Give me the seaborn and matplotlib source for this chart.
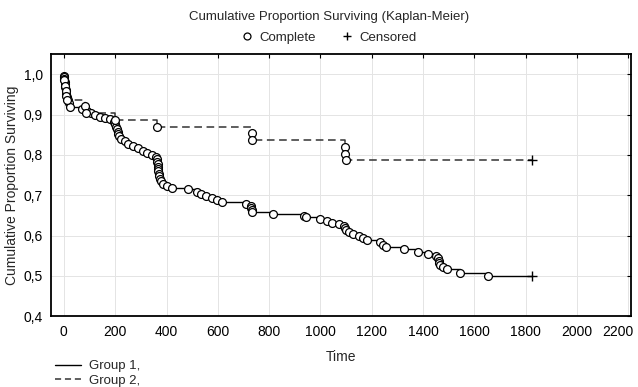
import numpy as np
import pandas as pd
import matplotlib
matplotlib.use("Agg")
import matplotlib.pyplot as plt
import matplotlib.transforms as mtransforms
from matplotlib.lines import Line2D
import seaborn as sns

# ---------------- data ----------------
g1_time = [0, 1, 2, 3, 4, 6, 8, 10, 13, 16, 20, 25, 70, 90, 105, 121, 140, 160, 180,
           195, 200, 203, 206, 209, 212, 216, 222, 238, 250, 270, 290, 308, 325, 343,
           360, 362, 364, 365, 366, 367, 368, 370, 372, 375, 380, 386, 400, 420, 483,
           520, 535, 555, 576, 595, 615, 710, 730, 731, 732, 734, 815, 936, 945, 998,
           1025, 1045, 1072, 1090, 1095, 1100, 1110, 1127, 1150, 1165, 1181, 1232,
           1243, 1255, 1325, 1380, 1420, 1452, 1458, 1460, 1462, 1465, 1478, 1492,
           1544, 1653]
g1_surv = [0.997, 0.993, 0.988, 0.982, 0.975, 0.968, 0.960, 0.952, 0.945, 0.937,
           0.928, 0.918, 0.913, 0.908, 0.903, 0.900, 0.895, 0.892, 0.888, 0.882,
           0.876, 0.870, 0.864, 0.858, 0.852, 0.846, 0.840, 0.834, 0.827, 0.821,
           0.816, 0.811, 0.806, 0.800, 0.795, 0.789, 0.783, 0.777, 0.771, 0.765,
           0.759, 0.753, 0.747, 0.741, 0.735, 0.728, 0.723, 0.719, 0.715, 0.709,
           0.704, 0.699, 0.694, 0.688, 0.683, 0.678, 0.673, 0.668, 0.663, 0.658,
           0.653, 0.649, 0.645, 0.641, 0.636, 0.632, 0.628, 0.623, 0.618, 0.613,
           0.608, 0.603, 0.598, 0.593, 0.588, 0.583, 0.577, 0.571, 0.566, 0.560,
           0.555, 0.549, 0.544, 0.538, 0.532, 0.527, 0.521, 0.516, 0.507, 0.500]
g1_censor_time = 1826

g2_time = [1, 4, 7, 10, 13, 82, 85, 200, 362, 733, 735, 1095, 1097, 1099]
g2_surv = [0.985, 0.970, 0.958, 0.947, 0.937, 0.921, 0.905, 0.886, 0.870,
           0.855, 0.837, 0.820, 0.803, 0.787]
g2_censor_time = 1826

x_ticks = [0, 200, 400, 600, 800, 1000, 1200, 1400, 1600, 1800, 2000, 2200]
y_ticks = [0.4, 0.5, 0.6, 0.7, 0.8, 0.9, 1.0]
y_tick_labels = ["0,4", "0,5", "0,6", "0,7", "0,8", "0,9", "1,0"]

# ---------------- style ----------------
sns.set_style("white")
plt.rcParams["font.family"] = ["Liberation Sans", "DejaVu Sans"]

fig = plt.figure(figsize=(6.38, 3.87), dpi=100)
ax = fig.add_axes([0.080, 0.183, 0.909, 0.677])


def step_frame(times, surv, censor):
    t = [0] + list(times) + [censor]
    s = [1.0] + list(surv) + [surv[-1]]
    return pd.DataFrame({"Time": t, "S": s})


d1 = step_frame(g1_time, g1_surv, g1_censor_time)
d2 = step_frame(g2_time, g2_surv, g2_censor_time)

sns.lineplot(data=d1, x="Time", y="S", ax=ax, color="black", lw=1.0,
             drawstyle="steps-post", estimator=None, sort=False, zorder=2)
sns.lineplot(data=d2, x="Time", y="S", ax=ax, color="#333333", lw=1.1,
             drawstyle="steps-post", estimator=None, sort=False,
             dashes=False, zorder=2)
ax.lines[-1].set_linestyle((0, (5, 3)))

sns.scatterplot(x=g1_time, y=g1_surv, ax=ax, marker="o", s=32,
                facecolor="white", edgecolor="black", linewidth=0.9, zorder=3)
sns.scatterplot(x=g2_time, y=g2_surv, ax=ax, marker="o", s=32,
                facecolor="white", edgecolor="black", linewidth=0.9, zorder=3)
sns.scatterplot(x=[g1_censor_time, g2_censor_time], y=[g1_surv[-1], g2_surv[-1]],
                ax=ax, marker="+", s=45, color="black", linewidth=1.0, zorder=3)

ax.set_xlim(-50, 2210)
ax.set_ylim(0.4, 1.05)
ax.set_xticks(x_ticks)
ax.set_yticks(y_ticks)
ax.set_yticklabels(y_tick_labels)
ax.grid(True, color="#e4e4e4", lw=0.7)
ax.set_axisbelow(True)
for sp in ax.spines.values():
    sp.set_color("black")
    sp.set_linewidth(1.3)
    sp.set_visible(True)
ax.tick_params(direction="in", length=3, width=0.8, top=True, right=True,
               labelsize=10, colors="black", pad=6)
# keep the last x tick label inside the figure, as in the reference
last = ax.get_xticklabels()[-1]
last.set_horizontalalignment("right")
last.set_transform(last.get_transform() +
                   mtransforms.ScaledTranslation(5 / 100, 0, fig.dpi_scale_trans))

ax.set_xlabel("Time", fontsize=10, labelpad=8)
ax.set_ylabel("Cumulative Proportion Surviving", fontsize=10, labelpad=3)

fig.text(0.515, 0.955, "Cumulative Proportion Surviving (Kaplan-Meier)",
         ha="center", va="center", fontsize=9.5)
h_comp = Line2D([], [], marker="o", ls="none", mfc="white", mec="black",
                ms=5, mew=0.9)
h_cens = Line2D([], [], marker="+", ls="none", color="black", ms=6, mew=1.0)
fig.legend([h_comp, h_cens], ["Complete", "Censored"], ncol=2, frameon=False,
           loc="center", bbox_to_anchor=(0.515, 0.902), fontsize=9.5,
           handletextpad=0.5, columnspacing=1.8, handlelength=1.0)

h1 = Line2D([], [], color="black", lw=1.0)
h2 = Line2D([], [], color="#333333", lw=1.1, ls=(0, (4, 2.5)))
fig.legend([h1, h2], ["Group 1,", "Group 2,"], loc="upper left",
           bbox_to_anchor=(0.086, 0.07), frameon=False, fontsize=9.5,
           handlelength=2.0, handletextpad=0.6, labelspacing=0.2,
           borderpad=0, borderaxespad=0)

fig.savefig("out.png", dpi=100)
